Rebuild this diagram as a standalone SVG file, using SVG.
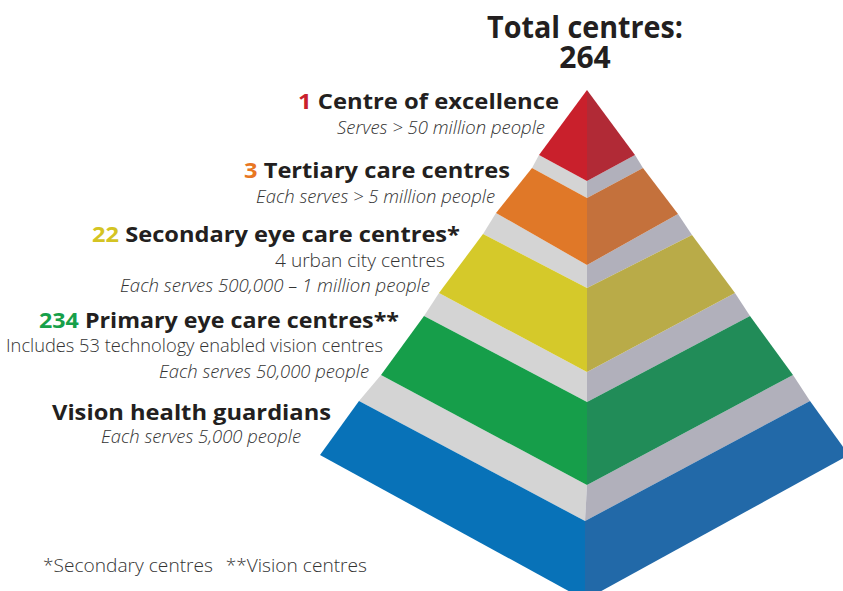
<svg xmlns="http://www.w3.org/2000/svg" width="843" height="591" viewBox="0 0 843 591">
<style>
.bg{fill:#ffffff}
.gl{fill:#d4d4d4}
.gr{fill:#b1b0bb}
.title{font-family:"Open Sans","Liberation Sans",sans-serif;font-weight:700;font-size:30px;fill:#231f20;text-anchor:middle}
.lab{font-family:"Open Sans","Liberation Sans",sans-serif;font-weight:700;font-size:22px;fill:#231f20;text-anchor:end}
.it{font-family:"Open Sans","Liberation Sans",sans-serif;font-weight:300;font-style:italic;font-size:18px;fill:#333333;text-anchor:end}
.rg{font-family:"Open Sans","Liberation Sans",sans-serif;font-weight:300;font-size:18px;fill:#333333;text-anchor:end}
.fn{font-family:"Open Sans","Liberation Sans",sans-serif;font-weight:300;font-size:18px;fill:#333333}
</style>
<rect class="bg" x="0" y="0" width="843" height="591"/>
<g id="connectors"/>
<g id="pyramid">
  <g id="tier-blue">
    <polygon class="gl" points="381,375 587,485 585,521 359,401"/>
    <polygon class="gr" points="587,485 793,375 810,401 585,521"/>
    <polygon fill="#0872b8" points="359,401 585,521 585,600 320,455"/>
    <polygon fill="#2269a8" points="585,521 810,401 849,455 585,600"/>
  </g>
  <g id="tier-green">
    <polygon class="gl" points="439,293 587,372 587,402 424,316"/>
    <polygon class="gr" points="587,372 735,293 750,316 587,402"/>
    <polygon fill="#169e4a" points="424,316 587,402 587,485 381,375"/>
    <polygon fill="#218c58" points="587,402 750,316 793,375 587,485"/>
  </g>
  <g id="tier-yellow">
    <polygon class="gl" points="496,213 587,265 587,288 483,234"/>
    <polygon class="gr" points="587,265 678,214 692,235 587,288"/>
    <polygon fill="#d5c92a" points="483,234 587,288 587,372 439,293"/>
    <polygon fill="#b9ab48" points="587,288 692,235 735,293 587,372"/>
  </g>
  <g id="tier-orange">
    <polygon class="gl" points="539,155 587,181 587,198 532,168"/>
    <polygon class="gr" points="587,181 635,155 643,168 587,198"/>
    <polygon fill="#e07828" points="532,168 587,198 587,265 496,213"/>
    <polygon fill="#c4713c" points="587,198 643,168 678,214 587,265"/>
  </g>
  <g id="tier-red">
    <polygon fill="#c9202c" points="587,90 539,155 587,181"/>
    <polygon fill="#b12a36" points="587,90 587,181 635,155"/>
  </g>
</g>
<g id="title">
  <text class="title" x="585" y="38" textLength="196" lengthAdjust="spacingAndGlyphs">Total centres:</text>
  <text class="title" x="585" y="68">264</text>
</g>
<g id="label-excellence">
  <text class="lab" x="559" y="109" textLength="261" lengthAdjust="spacingAndGlyphs"><tspan fill="#c9202c">1</tspan> Centre of excellence</text>
  <text class="it" x="545" y="134" textLength="208" lengthAdjust="spacingAndGlyphs">Serves &gt; 50 million people</text>
</g>
<g id="label-tertiary">
  <text class="lab" x="510" y="178" textLength="266" lengthAdjust="spacingAndGlyphs"><tspan fill="#e87722">3</tspan> Tertiary care centres</text>
  <text class="it" x="495" y="203" textLength="239" lengthAdjust="spacingAndGlyphs">Each serves &gt; 5 million people</text>
</g>
<g id="label-secondary">
  <text class="lab" x="460" y="242" textLength="368" lengthAdjust="spacingAndGlyphs"><tspan fill="#d4c423">22</tspan> Secondary eye care centres*</text>
  <text class="rg" x="445" y="267" textLength="170" lengthAdjust="spacingAndGlyphs">4 urban city centres</text>
  <text class="it" x="430" y="292" textLength="310" lengthAdjust="spacingAndGlyphs">Each serves 500,000 – 1 million people</text>
</g>
<g id="label-primary">
  <text class="lab" x="399" y="328" textLength="360" lengthAdjust="spacingAndGlyphs"><tspan fill="#17a04a">234</tspan> Primary eye care centres**</text>
  <text class="rg" x="383" y="352" textLength="377" lengthAdjust="spacingAndGlyphs">Includes 53 technology enabled vision centres</text>
  <text class="it" x="369" y="378" textLength="210" lengthAdjust="spacingAndGlyphs">Each serves 50,000 people</text>
</g>
<g id="label-guardians">
  <text class="lab" x="331" y="420" textLength="279" lengthAdjust="spacingAndGlyphs">Vision health guardians</text>
  <text class="it" x="301" y="443" textLength="200" lengthAdjust="spacingAndGlyphs">Each serves 5,000 people</text>
</g>
<g id="footnote">
  <text class="fn" x="43" y="572" textLength="324" lengthAdjust="spacingAndGlyphs">*Secondary centres<tspan dx="12">**Vision centres</tspan></text>
</g>
</svg>
